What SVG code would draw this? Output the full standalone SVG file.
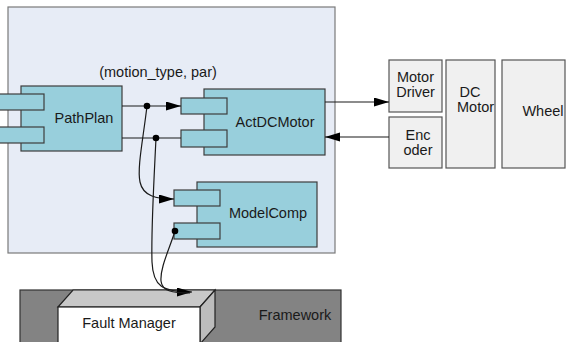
<svg xmlns="http://www.w3.org/2000/svg" width="566" height="342" viewBox="0 0 566 342">
  <defs>
    <style>
      text { font-family: "Liberation Sans", Arial, sans-serif; font-size: 14.5px; fill: #1a1a1a; }
      .mid { text-anchor: middle; }
      .comp { fill: #98cfdc; stroke: #3c3c3c; stroke-width: 1.2; }
      .hw { fill: #f0f0f0; stroke: #555; stroke-width: 1.2; }
      .wire { fill: none; stroke: #1a1a1a; stroke-width: 1.2; }
      .dot { fill: #000; }
    </style>
    <marker id="arrow" markerUnits="userSpaceOnUse" markerWidth="16" markerHeight="10" refX="15" refY="4.5" orient="auto">
      <path d="M0,0 L15,4.5 L0,9 z" fill="#000"/>
    </marker>
  </defs>

  <!-- application container -->
  <rect id="container" x="8" y="7" width="327" height="246" fill="#e7ecf6" stroke="#7a7a7a" stroke-width="1.2"/>

  <!-- framework bar -->
  <g id="framework">
    <rect x="20" y="290" width="321" height="56" fill="#838383" stroke="#333" stroke-width="1.2"/>
    <text x="295" y="320" class="mid">Framework</text>
  </g>

  <!-- fault manager block -->
  <g id="fault-manager">
    <polygon points="58,307 73,290 215,290 200,307" fill="#c8c8c8" stroke="#222" stroke-width="1.2"/>
    <polygon points="200,307 215,290 215,327 200,344" fill="#bcbcbc" stroke="#222" stroke-width="1.2"/>
    <rect x="58" y="307" width="142" height="38" fill="#fff" stroke="#222" stroke-width="1.2"/>
    <text x="129" y="328" class="mid">Fault Manager</text>
  </g>

  <!-- PathPlan component -->
  <g id="pathplan">
    <rect class="comp" x="21" y="86" width="101" height="65"/>
    <rect class="comp" x="-2" y="94" width="46" height="16"/>
    <rect class="comp" x="-2" y="127" width="46" height="16"/>
    <text x="84" y="123" class="mid">PathPlan</text>
  </g>

  <!-- ActDCMotor component -->
  <g id="actdcmotor">
    <rect class="comp" x="204" y="89" width="121" height="66"/>
    <rect class="comp" x="181" y="98" width="46" height="16"/>
    <rect class="comp" x="181" y="130" width="46" height="17"/>
    <text x="275" y="127" class="mid">ActDCMotor</text>
  </g>

  <!-- ModelComp component -->
  <g id="modelcomp">
    <rect class="comp" x="197" y="182" width="120" height="65"/>
    <rect class="comp" x="174" y="190" width="46" height="16"/>
    <rect class="comp" x="174" y="223" width="46" height="16"/>
    <text x="268" y="218" class="mid">ModelComp</text>
  </g>

  <!-- hardware chain -->
  <g id="motor-driver">
    <rect class="hw" x="389" y="60" width="53" height="52"/>
    <text x="415.5" y="82" class="mid">Motor</text>
    <text x="415.5" y="97" class="mid">Driver</text>
  </g>
  <g id="encoder">
    <rect class="hw" x="389" y="117" width="53" height="51"/>
    <text x="418" y="140" class="mid">Enc</text>
    <text x="418" y="155" class="mid">oder</text>
  </g>
  <g id="dc-motor">
    <rect class="hw" x="446" y="60" width="49" height="108"/>
    <text x="470" y="97" class="mid">DC</text>
    <text x="457" y="112">Motor</text>
  </g>
  <g id="wheel">
    <rect class="hw" x="502" y="60" width="63" height="108"/>
    <text x="543" y="116" class="mid">Wheel</text>
  </g>

  <!-- connectors -->
  <g id="connectors">
    <text x="158" y="77" class="mid">(motion_type, par)</text>
    <path class="wire" d="M122,106 L181,106" marker-end="url(#arrow)"/>
    <path class="wire" d="M122,138 L181,138" stroke="#444"/>
    <path class="wire" d="M325,102 L389,102" marker-end="url(#arrow)"/>
    <path class="wire" d="M389,137 L325,137" marker-end="url(#arrow)"/>
    <path class="wire" d="M147,106 C143,140 137,168 140,182 C143,196 156,199 174,199" marker-end="url(#arrow)"/>
    <path class="wire" d="M156,138 C154,180 151,230 152,262 C153,286 162,292 192,292" marker-end="url(#arrow)"/>
    <path class="wire" d="M175,231 C169,250 160,268 161,281 C162,291 172,293 190,293"/>
    <circle class="dot" cx="147" cy="106" r="3.3"/>
    <circle class="dot" cx="156" cy="138" r="3.3"/>
    <circle class="dot" cx="175" cy="231" r="3.3"/>
  </g>
</svg>
